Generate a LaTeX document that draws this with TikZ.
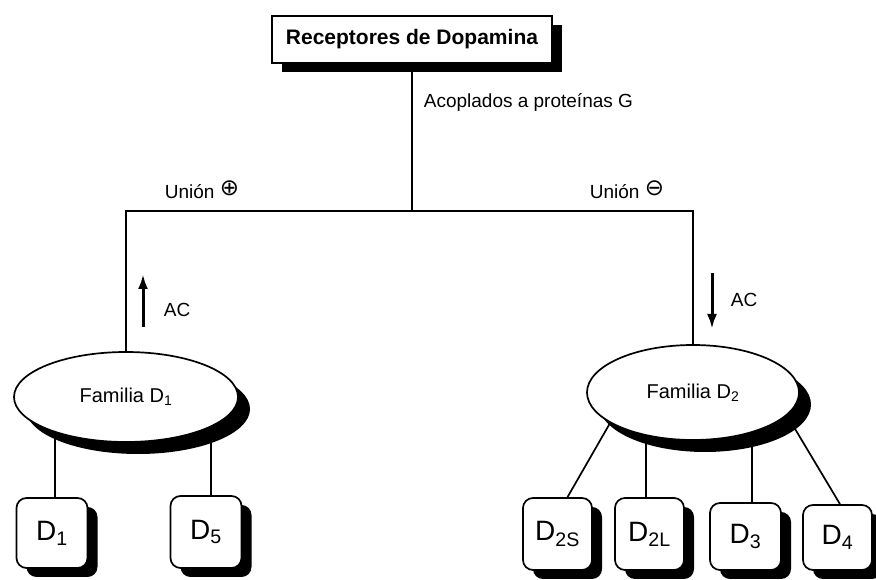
\documentclass[tikz,border=0pt]{standalone}
\usepackage{fontspec}
\setmainfont{Liberation Sans}
\newfontfamily\symfont{DejaVu Sans}
\usetikzlibrary{shapes.geometric,shadows,arrows.meta,backgrounds}

\begin{document}
\begin{tikzpicture}[x=1pt,y=1pt,line width=1.7pt]
	\useasboundingbox (0,0) rectangle (876,580);
	\tikzstyle{blackshadow}=[drop shadow={fill=black,opacity=1,shadow xshift=10pt,shadow yshift=-9pt}]
	\tikzstyle{titlebox}=[rectangle,draw=black,fill=white,blackshadow,minimum width=280pt,minimum height=47pt,font=\fontsize{21}{24}\selectfont\bfseries]
	\tikzstyle{family}=[ellipse,draw=black,fill=white,drop shadow={fill=black,opacity=1,shadow xshift=12pt,shadow yshift=-12pt},inner sep=0pt,font=\fontsize{20}{23}\selectfont]
	\tikzstyle{receptor}=[rectangle,rounded corners=10pt,draw=black,fill=white,blackshadow,inner sep=0pt,font=\fontsize{28}{32}\selectfont]
	\tikzstyle{lab}=[font=\fontsize{19}{22}\selectfont,inner sep=0pt]
	\tikzstyle{link}=[line width=1.7pt]
	\tikzstyle{ac}=[line width=3pt,-{Latex[length=15pt,width=10pt]}]

	\node[titlebox] (rec) at (412,540.5) {Receptores de Dopamina};
	\node[family,minimum width=224pt,minimum height=90pt] (fam1) at (126,183) {Familia D\textsubscript{1}};
	\node[family,minimum width=212pt,minimum height=95pt] (fam2) at (693,187.5) {Familia D\textsubscript{2}};

	\node[receptor,minimum width=71pt,minimum height=70pt] (d1) at (52,47) {D\textsubscript{1}};
	\node[receptor,minimum width=71pt,minimum height=72pt] (d5) at (206,48) {D\textsubscript{5}};
	\node[receptor,minimum width=69pt,minimum height=72pt] (d2s) at (557.5,46) {D\textsubscript{2S}};
	\node[receptor,minimum width=69pt,minimum height=72pt] (d2l) at (649.5,46) {D\textsubscript{2L}};
	\node[receptor,minimum width=71pt,minimum height=67pt] (d3) at (745.5,43.5) {D\textsubscript{3}};
	\node[receptor,minimum width=69pt,minimum height=65pt] (d4) at (837.5,42.5) {D\textsubscript{4}};

	% tree from the top box down to both families
	\coordinate (jun) at (412,369);
	\draw[link] (rec) -- (jun);
	\draw[link] (fam1.north) |- (jun) -| (fam2.north);

	\node[lab,anchor=west] (acop) at (423,478) {Acoplados a proteínas G};
	\node[lab] (union1) at (202,390) {Unión \raisebox{.3ex}{\symfont\fontsize{23}{24}\selectfont ⊕}};
	\node[lab] (union2) at (627,390) {Unión \raisebox{.3ex}{\symfont\fontsize{23}{24}\selectfont ⊖}};

	% adenylate cyclase up / down
	\coordinate (up1) at (143,253);
	\coordinate (up2) at (143,306);
	\draw[ac] (up1) -- (up2);
	\node[lab,anchor=west] (ac1) at (163,270) {AC};
	\coordinate (dn1) at (712,307);
	\coordinate (dn2) at (712,251);
	\draw[ac] (dn1) -- (dn2);
	\node[lab,anchor=west] (ac2) at (730,280) {AC};

	% receptors hang under their family
	\coordinate (fam2a) at (621,176);
	\coordinate (fam2b) at (770,193);
	\begin{scope}[on background layer]
		\draw[link] ([xshift=3pt]d1.north) -- ([xshift=3pt]d1.north |- fam1.center);
		\draw[link] ([xshift=5pt]d5.north) -- ([xshift=5pt]d5.north |- fam1.center);
		\draw[link] ([xshift=10pt]d2s.north) -- (fam2a);
		\draw[link] ([xshift=-3.5pt]d2l.north) -- ([xshift=-3.5pt]d2l.north |- fam2.center);
		\draw[link] ([xshift=6.5pt]d3.north) -- ([xshift=6.5pt]d3.north |- fam2.center);
		\draw[link] ([xshift=2.5pt]d4.north) -- (fam2b);
	\end{scope}
\end{tikzpicture}
\end{document}
